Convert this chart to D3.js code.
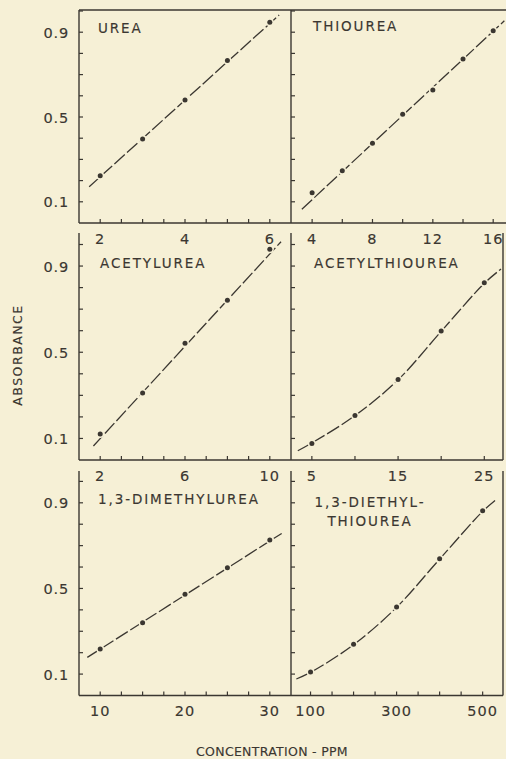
<!DOCTYPE html>
<html><head><meta charset="utf-8">
<script src="https://cdn.jsdelivr.net/npm/d3@7"></script>
<style>body{margin:0;background:#f6f0d6}svg{display:block}</style>
</head><body>
<svg id="c" width="506" height="759"></svg>
<script>
// ---------------- DATA ----------------
const absorbanceTicks = [0.1,0.2,0.3,0.4,0.5,0.6,0.7,0.8,0.9,1.0];
const absorbanceLabels = [0.1,0.5,0.9];

const ureaTitle = ["UREA"];
const ureaX = [2,3,4,5,6];
const ureaY = [0.223,0.396,0.580,0.766,0.947];
const ureaFitX = [1.74,6.22];
const ureaFitY = [0.171,0.981];
const ureaDomain = [1.5,6.5];
const ureaTicks = [2,2.5,3,3.5,4,4.5,5,5.5,6];
const ureaLabels = [2,4,6];

const thioureaTitle = ["THIOUREA"];
const thioureaX = [4,6,8,10,12,14,16];
const thioureaY = [0.143,0.247,0.376,0.513,0.627,0.774,0.907];
const thioureaFitX = [3.32,16.74];
const thioureaFitY = [0.065,0.954];
const thioureaDomain = [2.6,16.65];
const thioureaTicks = [4,6,8,10,12,14,16];
const thioureaLabels = [4,8,12,16];

const acetylureaTitle = ["ACETYLUREA"];
const acetylureaX = [2,4,6,8,10];
const acetylureaY = [0.121,0.311,0.542,0.741,0.978];
const acetylureaFitX = [1.68,10.53];
const acetylureaFitY = [0.065,1.013];
const acetylureaDomain = [1,11];
const acetylureaTicks = [2,3,4,5,6,7,8,9,10];
const acetylureaLabels = [2,6,10];

const acetylthioureaTitle = ["ACETYLTHIOUREA"];
const acetylthioureaX = [5,10,15,20,25];
const acetylthioureaY = [0.077,0.207,0.373,0.599,0.823];
const acetylthioureaFitX = [3.37,5,10,15,20,25,26.94];
const acetylthioureaFitY = [0.043,0.079,0.206,0.372,0.597,0.820,0.886];
const acetylthioureaDomain = [2.58,27.17];
const acetylthioureaTicks = [5,10,15,20,25];
const acetylthioureaLabels = [5,15,25];

const dimethylureaTitle = ["1,3-DIMETHYLUREA"];
const dimethylureaX = [10,15,20,25,30];
const dimethylureaY = [0.217,0.340,0.473,0.597,0.726];
const dimethylureaFitX = [8.48,31.4];
const dimethylureaFitY = [0.178,0.757];
const dimethylureaDomain = [7.5,32.5];
const dimethylureaTicks = [10,12.5,15,17.5,20,22.5,25,27.5,30];
const dimethylureaLabels = [10,20,30];

const diethylthioureaTitle = ["1,3-DIETHYL-","THIOUREA"];
const diethylthioureaX = [100,200,300,400,500];
const diethylthioureaY = [0.110,0.239,0.413,0.639,0.863];
const diethylthioureaFitX = [67,100,200,300,400,500,530];
const diethylthioureaFitY = [0.077,0.108,0.237,0.412,0.637,0.860,0.913];
const diethylthioureaDomain = [54.6,547.3];
const diethylthioureaTicks = [100,150,200,250,300,350,400,450,500];
const diethylthioureaLabels = [100,300,500];

const yAxisTitle = "ABSORBANCE";
const xAxisTitle = "CONCENTRATION - PPM";

// ---------------- LAYOUT ----------------
const ink = "#3b3731", paper = "#f6f0d6";
const font = "'DejaVu Sans', sans-serif";
const cols = [{x0:79,x1:291},{x0:291,x1:503}];
const rows = [
  {bottom:223, top1:11, lineTop:10},
  {bottom:460, top1:244.5, lineTop:233},
  {bottom:695.5, top1:481.4, lineTop:471}
];

const panels = [
  {row:0,col:0,title:ureaTitle,xs:ureaX,ys:ureaY,fx:ureaFitX,fy:ureaFitY,dom:ureaDomain,ticks:ureaTicks,labels:ureaLabels,tx:98,ty:32.5,anchor:"start"},
  {row:0,col:1,title:thioureaTitle,xs:thioureaX,ys:thioureaY,fx:thioureaFitX,fy:thioureaFitY,dom:thioureaDomain,ticks:thioureaTicks,labels:thioureaLabels,tx:313,ty:31,anchor:"start"},
  {row:1,col:0,title:acetylureaTitle,xs:acetylureaX,ys:acetylureaY,fx:acetylureaFitX,fy:acetylureaFitY,dom:acetylureaDomain,ticks:acetylureaTicks,labels:acetylureaLabels,tx:100,ty:267.5,anchor:"start"},
  {row:1,col:1,title:acetylthioureaTitle,xs:acetylthioureaX,ys:acetylthioureaY,fx:acetylthioureaFitX,fy:acetylthioureaFitY,dom:acetylthioureaDomain,ticks:acetylthioureaTicks,labels:acetylthioureaLabels,tx:314,ty:267.5,anchor:"start",curve:true},
  {row:2,col:0,title:dimethylureaTitle,xs:dimethylureaX,ys:dimethylureaY,fx:dimethylureaFitX,fy:dimethylureaFitY,dom:dimethylureaDomain,ticks:dimethylureaTicks,labels:dimethylureaLabels,tx:98,ty:503.5,anchor:"start"},
  {row:2,col:1,title:diethylthioureaTitle,xs:diethylthioureaX,ys:diethylthioureaY,fx:diethylthioureaFitX,fy:diethylthioureaFitY,dom:diethylthioureaDomain,ticks:diethylthioureaTicks,labels:diethylthioureaLabels,tx:370,ty:506.5,anchor:"middle",curve:true}
];

const svg = d3.select("#c");
svg.append("rect").attr("width",506).attr("height",759).attr("fill",paper);

// frame lines
const g = svg.append("g").attr("stroke",ink).attr("stroke-width",1.4).attr("fill","none");
g.append("line").attr("x1",79).attr("x2",506).attr("y1",10).attr("y2",10);
rows.forEach((r,i)=>{
  g.append("line").attr("x1",79).attr("x2",i===0?506:503).attr("y1",r.bottom).attr("y2",r.bottom);
  cols.forEach(c=>{
    g.append("line").attr("x1",c.x0).attr("x2",c.x0).attr("y1",r.lineTop).attr("y2",r.bottom);
  });
  if(i>0) g.append("line").attr("x1",503).attr("x2",503).attr("y1",r.lineTop).attr("y2",r.bottom);
});

function styleText(sel, size, spacing){
  return sel.attr("font-family",font).attr("font-size",size).attr("letter-spacing",spacing)
    .attr("fill",ink).attr("stroke",ink).attr("stroke-width",0.15);
}

panels.forEach(p=>{
  const c = cols[p.col], r = rows[p.row];
  const x = d3.scaleLinear().domain(p.dom).range([c.x0, c.x1]);
  const y = d3.scaleLinear().domain([0,1]).range([r.bottom, r.top1]);
  const pg = svg.append("g");

  // y ticks (inward)
  pg.selectAll(".yt").data(absorbanceTicks).join("line")
    .attr("x1",c.x0).attr("x2",c.x0+4).attr("y1",d=>y(d)).attr("y2",d=>y(d))
    .attr("stroke",ink).attr("stroke-width",1.2);
  // x ticks (inward)
  pg.selectAll(".xt").data(p.ticks).join("line")
    .attr("x1",d=>x(d)).attr("x2",d=>x(d)).attr("y1",r.bottom).attr("y2",r.bottom-4)
    .attr("stroke",ink).attr("stroke-width",1.2);
  // x labels
  styleText(pg.selectAll(".xl").data(p.labels).join("text"), 14.5, 1)
    .attr("x",d=>x(d)).attr("y",r.bottom+20.5).attr("text-anchor","middle")
    .text(d=>String(d));
  // y labels on left column
  if(p.col===0){
    styleText(pg.selectAll(".yl").data(absorbanceLabels).join("text"), 14.5, 0.8)
      .attr("x",c.x0-10).attr("y",d=>y(d)).attr("dy","0.38em").attr("text-anchor","end")
      .text(d=>d.toFixed(1));
  }
  // fitted line
  const fit = p.fx.map((v,i)=>[v,p.fy[i]]);
  const line = d3.line().x(d=>x(d[0])).y(d=>y(d[1])).curve(p.curve?d3.curveCatmullRom.alpha(0.5):d3.curveLinear);
  pg.append("path").attr("d",line(fit)).attr("fill","none").attr("stroke",ink)
    .attr("stroke-width",1.3).attr("stroke-dasharray","14,3");
  const pts = p.xs.map((v,i)=>[v,p.ys[i]]);
  pg.selectAll(".halo").data(pts).join("circle")
    .attr("cx",d=>x(d[0])).attr("cy",d=>y(d[1])).attr("r",4).attr("fill",paper);
  pg.selectAll(".dot").data(pts).join("circle")
    .attr("cx",d=>x(d[0])).attr("cy",d=>y(d[1])).attr("r",2.5).attr("fill",ink);
  // title
  const t = styleText(pg.append("text"), 13.5, 1.9).attr("text-anchor",p.anchor);
  p.title.forEach((s,i)=>{
    t.append("tspan").attr("x",p.tx).attr("y",p.ty+i*19).text(s);
  });
});

// axis titles
styleText(svg.append("text"), 12.5, 1.5).attr("transform","translate(22,355) rotate(-90)")
  .attr("text-anchor","middle").text(yAxisTitle);
styleText(svg.append("text"), 12.5, 0.3).attr("x",272).attr("y",755.5)
  .attr("text-anchor","middle").text(xAxisTitle);
</script>
</body></html>
